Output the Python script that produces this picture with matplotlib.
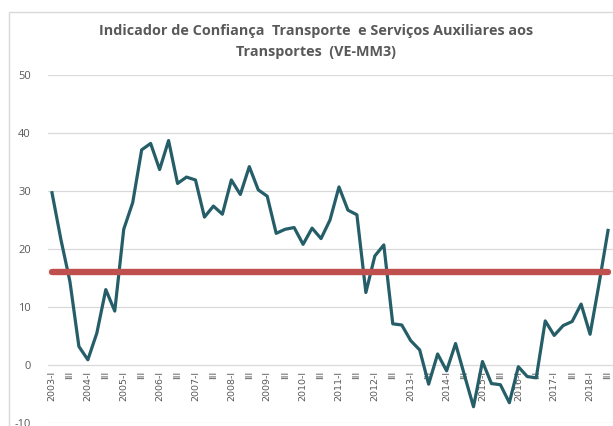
import matplotlib
matplotlib.use("Agg")
import matplotlib.pyplot as plt
from matplotlib.patches import Rectangle

plt.rcParams["axes.unicode_minus"] = False

years = list(range(2003, 2019))
quarters = ["I", "II", "III", "IV"]
periods = [f"{y}-{q}" for y in years for q in quarters][:63]

values = [29.7, 21.6, 14.4, 3.2, 0.9, 5.5, 13.0, 9.3,
          23.4, 28.0, 37.1, 38.2, 33.7, 38.7, 31.3, 32.4,
          31.9, 25.5, 27.4, 26.0, 31.9, 29.4, 34.2, 30.2,
          29.1, 22.7, 23.4, 23.7, 20.8, 23.6, 21.8, 25.0,
          30.7, 26.7, 25.9, 12.5, 18.8, 20.7, 7.1, 6.9,
          4.2, 2.6, -3.3, 1.9, -1.0, 3.7, -1.8, -7.2,
          0.6, -3.2, -3.4, -6.5, -0.3, -2.0, -2.2, 7.6,
          5.1, 6.8, 7.5, 10.5, 5.3, 14.0, 23.2]
reference = [16.0] * len(values)

tick_labels = []
for p in periods:
    y, q = p.split("-")
    if q == "I":
        tick_labels.append(f"{y}-I")
    elif q == "III":
        tick_labels.append("III")
    else:
        tick_labels.append("")

W, H = 613, 426
fig = plt.figure(figsize=(W / 100, H / 100), dpi=100)
ax = fig.add_axes([47.5 / W, (H - 423) / H, (612.5 - 47.5) / W, (423 - 75) / H])

# chart border
fig.patches.append(Rectangle((9 / W, -0.1), 1.2, (H - 12) / H + 0.1,
                             transform=fig.transFigure, fill=False,
                             edgecolor="#D9D9D9", linewidth=1.0))

x = list(range(len(values)))
ax.plot(x, values, color="#255E69", linewidth=2.3, solid_joinstyle="round", zorder=3)
ax.plot(x, reference, color="#C0504D", linewidth=4.6, solid_capstyle="round", zorder=4)

ax.set_xlim(-0.5, len(values) - 0.5)
ax.set_ylim(-10, 50)
ax.set_yticks(range(-10, 51, 10))
ax.yaxis.grid(True, color="#D9D9D9", linewidth=0.9)
ax.set_axisbelow(True)
for s in ax.spines.values():
    s.set_color("none")
ax.spines["bottom"].set_position(("data", 0))

ax.set_xticks(x)
ax.set_xticklabels(tick_labels, rotation=90, fontsize=6.8, color="#595959",
                   family="DejaVu Sans")
ax.tick_params(axis="x", length=0, pad=4)
ax.tick_params(axis="y", length=0, pad=12, labelsize=8, labelcolor="#595959")
for lbl in ax.get_yticklabels():
    lbl.set_family("Open Sans")

fig.text(316 / W, 1 - 31 / H,
         "Indicador de Confiança  Transporte  e Serviços Auxiliares aos",
         ha="center", va="center", fontsize=10.4, fontweight="bold",
         color="#595959", family="Open Sans")
fig.text(316 / W, 1 - 52 / H, "Transportes  (VE-MM3)",
         ha="center", va="center", fontsize=10.4, fontweight="bold",
         color="#595959", family="Open Sans")

fig.savefig("out.png", dpi=100)
